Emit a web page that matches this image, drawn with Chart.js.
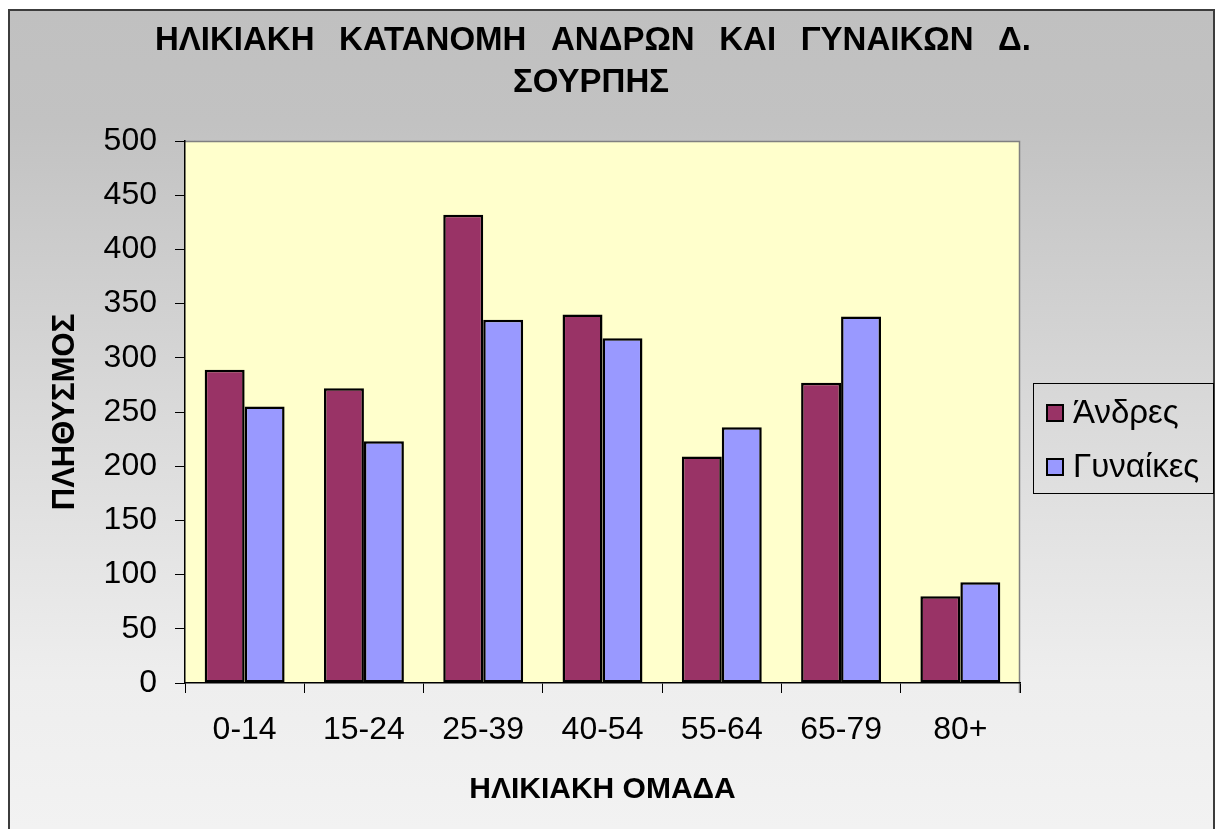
<!DOCTYPE html>
<html><head><meta charset="utf-8">
<script src="https://cdn.jsdelivr.net/npm/chart.js@4.4.1/dist/chart.umd.min.js"></script>
<style>html,body{margin:0;padding:0;background:#fff;overflow:hidden}</style>
</head><body>
<canvas id="c" width="1218" height="829" style="display:block;width:1218px;height:829px"></canvas>
<script>
const categories = ['0-14','15-24','25-39','40-54','55-64','65-79','80+'];
const men   = [289, 272, 432, 340, 209, 277, 80];
const women = [255, 223, 335, 318, 236, 338, 93];
const seriesNames = ['Άνδρες', 'Γυναίκες'];
const seriesColors = ['#993366', '#9999FF'];
const titleLines = ['ΗΛΙΚΙΑΚΗ ΚΑΤΑΝΟΜΗ ΑΝΔΡΩΝ ΚΑΙ ΓΥΝΑΙΚΩΝ Δ.', 'ΣΟΥΡΠΗΣ'];
const xTitle = 'ΗΛΙΚΙΑΚΗ ΟΜΑΔΑ';
const yTitle = 'ΠΛΗΘΥΣΜΟΣ';
const yMin = 0, yMax = 500, yStep = 50;

const FONT = '"Liberation Sans", Arial, sans-serif';

const bgPlugin = {
  id: 'bg',
  beforeDraw(chart) {
    const ctx = chart.ctx, W = chart.width, H = chart.height;
    ctx.save();
    ctx.fillStyle = '#ffffff';
    ctx.fillRect(0, 0, W, H);
    const g = ctx.createLinearGradient(0, 9, 0, H);
    g.addColorStop(0, '#c0c0c0');
    g.addColorStop(0.14, '#c2c2c2');
    g.addColorStop(0.5, '#dadada');
    g.addColorStop(0.82, '#eeeeee');
    g.addColorStop(1, '#f2f2f2');
    ctx.fillStyle = g;
    ctx.fillRect(9, 10, 1205, H - 10);
    ctx.strokeStyle = '#3c3c3c';
    ctx.lineWidth = 2;
    ctx.strokeRect(9, 10, 1205, H + 10);
    const a = chart.chartArea;
    ctx.fillStyle = '#ffffcc';
    ctx.fillRect(a.left, a.top, a.right - a.left, a.bottom - a.top);
    ctx.strokeStyle = '#808080';
    ctx.lineWidth = 1.5;
    ctx.beginPath();
    ctx.moveTo(a.left, a.top + 0.5);
    ctx.lineTo(a.right - 0.5, a.top + 0.5);
    ctx.lineTo(a.right - 0.5, a.bottom + 10);
    ctx.stroke();
    ctx.restore();
  },
  afterDraw(chart) {
    const ctx = chart.ctx;
    ctx.save();
    // title
    ctx.fillStyle = '#000';
    ctx.font = 'bold 33px ' + FONT;
    ctx.textBaseline = 'middle';
    ctx.textAlign = 'left';
    const words = titleLines[0].split(' ');
    const widths = words.map(w => ctx.measureText(w).width);
    const total = widths.reduce((s, v) => s + v, 0);
    const x0 = 155, x1 = 1031;
    const gap = (x1 - x0 - total) / (words.length - 1);
    let x = x0;
    words.forEach((w, i) => { ctx.fillText(w, x, 41); x += widths[i] + gap; });
    ctx.textAlign = 'center';
    ctx.fillText(titleLines[1], 591, 83);
    // legend
    const lx = 1033, ly = 383, lw = 180, lh = 110;
    ctx.strokeStyle = '#000';
    ctx.lineWidth = 1;
    ctx.strokeRect(lx + 0.5, ly + 0.5, lw, lh);
    ctx.font = '33px ' + FONT;
    ctx.textAlign = 'left';
    chart.data.datasets.forEach((ds, i) => {
      const cy = 413 + i * 54;
      ctx.fillStyle = ds.backgroundColor;
      ctx.fillRect(1046, cy - 9, 18, 18);
      ctx.lineWidth = 2;
      ctx.strokeRect(1047, cy - 8, 16, 16);
      ctx.fillStyle = '#000';
      ctx.fillText(ds.label, 1073, cy + 1);
    });
    ctx.restore();
  }
};

new Chart(document.getElementById('c'), {
  type: 'bar',
  data: {
    labels: categories,
    datasets: [
      { label: seriesNames[0], data: men, backgroundColor: seriesColors[0], borderColor: '#000', borderWidth: 2.5, borderSkipped: false },
      { label: seriesNames[1], data: women, backgroundColor: seriesColors[1], borderColor: '#000', borderWidth: 2.5, borderSkipped: false }
    ]
  },
  options: {
    responsive: false,
    animation: false,
    devicePixelRatio: 1,
    layout: { padding: { left: 10, top: 141, right: 198, bottom: 0 } },
    datasets: { bar: { categoryPercentage: 0.67, barPercentage: 1.0 } },
    plugins: { legend: { display: false }, title: { display: false }, tooltip: { enabled: false } },
    scales: {
      x: {
        offset: true,
        grid: { offset: true, drawOnChartArea: false, drawTicks: true, tickLength: 10, color: '#000', lineWidth: 1 },
        border: { display: true, color: '#000', width: 1.5 },
        ticks: { color: '#000', font: { family: FONT, size: 32 }, padding: 18, maxRotation: 0 },
        title: { display: true, text: xTitle, color: '#000', font: { family: FONT, size: 30, weight: 'bold' }, padding: { top: 0, bottom: 21 } },
        afterFit(scale) { scale.height = 146; }
      },
      y: {
        min: yMin, max: yMax,
        grid: { drawOnChartArea: false, drawTicks: true, tickLength: 10, color: '#000', lineWidth: 1 },
        border: { display: true, color: '#000', width: 1.5 },
        ticks: { stepSize: yStep, color: '#000', font: { family: FONT, size: 32 }, padding: 18 },
        title: { display: true, text: yTitle, color: '#000', font: { family: FONT, size: 31, weight: 'bold' }, padding: { top: 37, bottom: 0 } },
        afterFit(scale) { scale.width = 175; }
      }
    }
  },
  plugins: [bgPlugin]
});
</script>
</body></html>
